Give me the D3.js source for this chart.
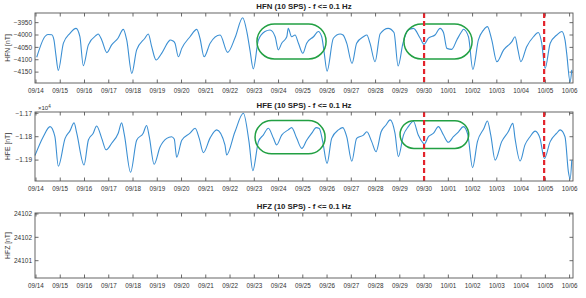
<!DOCTYPE html>
<html><head><meta charset="utf-8">
<script src="https://cdn.jsdelivr.net/npm/d3@7"></script>
<style>body{margin:0;background:#fff}svg{display:block}text{font-family:Arial,"Liberation Sans",sans-serif}</style>
</head><body><svg id="c" width="586" height="298"></svg>
<script>
// ---- data ----
const dayLabels = ["09/14","09/15","09/16","09/17","09/18","09/19","09/20","09/21","09/22","09/23","09/24","09/25","09/26","09/27","09/28","09/29","09/30","10/01","10/02","10/03","10/04","10/05","10/06"];
// time in days since 09/14 00:00
const hfnDays = [0.03,0.37,0.49,0.65,0.74,0.82,0.92,1.13,1.40,1.65,1.81,1.95,2.16,2.50,2.56,2.71,2.92,3.12,3.38,3.60,3.74,3.95,4.15,4.49,4.63,4.77,4.95,5.18,5.46,5.53,5.65,5.73,5.87,6.01,6.35,6.63,6.76,6.93,7.18,7.59,7.90,8.21,8.52,8.70,8.82,8.96,9.17,9.44,9.65,9.86,9.99,10.13,10.34,10.40,10.54,10.68,10.82,11.00,11.16,11.44,11.64,11.78,11.88,12.00,12.26,12.54,12.66,12.81,13.03,13.22,13.50,13.64,13.77,13.98,14.19,14.52,14.76,14.93,15.13,15.34,15.56,15.84,16.00,16.18,16.45,16.66,16.80,16.94,17.14,17.35,17.55,17.62,17.83,18.01,18.24,18.45,18.61,18.79,19.00,19.28,19.62,19.75,19.87,19.99,20.23,20.51,20.71,20.85,20.99,21.20,21.47,21.68,21.81,21.88,22.02,22.09];
const hfnValues = [-4090,-4006,-3998,-3999,-4020,-4080,-4143,-4033,-3993,-3973,-4007,-4124,-4040,-4000,-3996,-4020,-4071,-4040,-4013,-3977,-4020,-4155,-4060,-4013,-3996,-4047,-4101,-4074,-4027,-4020,-4024,-4033,-4088,-4054,-4007,-3977,-4013,-4088,-4033,-4000,-4070,-4010,-3930,-3990,-4060,-4137,-4020,-3986,-3980,-4007,-4060,-4033,-4007,-3973,-4007,-4000,-4033,-4074,-4033,-4007,-3986,-4007,-4070,-4146,-4013,-3996,-4000,-4033,-4115,-4033,-4007,-4000,-4033,-4108,-3995,-3973,-3990,-4125,-4033,-3980,-3973,-4013,-4038,-4013,-4000,-3973,-3990,-4054,-4058,-4020,-3986,-3977,-4007,-4139,-4020,-3980,-3966,-4020,-4108,-4060,-4027,-4007,-4060,-4108,-4047,-4007,-3990,-4033,-4135,-4033,-4000,-3986,-4020,-4074,-4189,-4141];
const hfeDays = [-0.04,0.30,0.58,0.78,0.92,1.20,1.40,1.57,1.68,1.98,2.16,2.36,2.50,2.71,2.89,3.12,3.39,3.53,3.64,3.90,4.15,4.42,4.56,4.67,4.87,5.11,5.39,5.59,5.70,5.80,6.01,6.35,6.56,6.73,6.90,7.18,7.45,7.79,7.86,8.20,8.55,8.78,8.94,9.17,9.37,9.58,9.79,9.92,10.13,10.40,10.54,10.75,10.96,11.16,11.37,11.55,11.68,11.82,12.00,12.19,12.47,12.65,12.81,13.02,13.22,13.50,13.64,13.84,14.02,14.23,14.43,14.60,14.80,14.94,15.15,15.35,15.56,15.76,15.97,16.00,16.18,16.39,16.59,16.80,17.00,17.21,17.42,17.62,17.80,18.00,18.20,18.47,18.61,18.75,18.93,19.20,19.47,19.66,19.75,19.96,20.16,20.37,20.58,20.78,20.96,21.20,21.47,21.61,21.81,21.95,22.02,22.09];
const hfeValues = [-1.1880,-1.1800,-1.1757,-1.1800,-1.1926,-1.1807,-1.1775,-1.1741,-1.1785,-1.1921,-1.1814,-1.1785,-1.1754,-1.1807,-1.1856,-1.1828,-1.1785,-1.1741,-1.1790,-1.1952,-1.1815,-1.1785,-1.1752,-1.1800,-1.1918,-1.1845,-1.1807,-1.1800,-1.1810,-1.1888,-1.1815,-1.1785,-1.1764,-1.1807,-1.1868,-1.1805,-1.1771,-1.1835,-1.1878,-1.1780,-1.1700,-1.1820,-1.1945,-1.1821,-1.1793,-1.1764,-1.1807,-1.1835,-1.1793,-1.1771,-1.1761,-1.1807,-1.1850,-1.1815,-1.1785,-1.1761,-1.1765,-1.1820,-1.1914,-1.1807,-1.1771,-1.1761,-1.1800,-1.1905,-1.1807,-1.1793,-1.1779,-1.1821,-1.1864,-1.1779,-1.1750,-1.1728,-1.1785,-1.1885,-1.1793,-1.1757,-1.1734,-1.1793,-1.1829,-1.1832,-1.1800,-1.1785,-1.1757,-1.1793,-1.1824,-1.1800,-1.1779,-1.1757,-1.1790,-1.1932,-1.1821,-1.1764,-1.1733,-1.1793,-1.1900,-1.1821,-1.1779,-1.1743,-1.1807,-1.1904,-1.1835,-1.1800,-1.1776,-1.1807,-1.1893,-1.1821,-1.1785,-1.1771,-1.1800,-1.1950,-1.1981,-1.1900];
const hfnTicks = [-3950,-4000,-4050,-4100,-4150];
const hfeTicks = [-1.17,-1.18,-1.19];
const hfzTicks = [24102,24101.5,24101];
const eventDays = [16.0, 20.95];
// highlight boxes: [startDay, endDay, topValue, bottomValue]
const hfnBoxes = [[9.11,11.96,-3955,-4097],[15.17,17.98,-3955,-4097]];
const hfeBoxes = [[9.03,11.92,-1.1731,-1.1873],[15.01,17.84,-1.1732,-1.1850]];

// ---- drawing ----
const svg = d3.select("#c");
const L = 35, R = 573;
const x = d3.scaleLinear().domain([-0.041, 22.14]).range([L, R]);

function panel(o){
  const y = d3.scaleLinear().domain(o.domain).range([o.bottom, o.top]);
  const g = svg.append("g");
  // x ticks bottom/top (inward)
  const tickDays = dayLabels.map((d,i)=>i);
  g.selectAll(".xb").data(tickDays).enter().append("line")
    .attr("x1",d=>x(d)).attr("x2",d=>x(d)).attr("y1",o.bottom).attr("y2",o.bottom-3.5)
    .attr("stroke","#444").attr("stroke-width",0.8);
  g.selectAll(".xt").data(tickDays).enter().append("line")
    .attr("x1",d=>x(d)).attr("x2",d=>x(d)).attr("y1",o.top).attr("y2",o.top+3.5)
    .attr("stroke","#444").attr("stroke-width",0.8);
  g.selectAll(".xl").data(dayLabels).enter().append("text")
    .attr("x",(d,i)=>x(i)).attr("y",o.bottom+9.5).attr("text-anchor","middle")
    .attr("font-size","6.3px").attr("fill","#333").text(d=>d);
  // y ticks left/right
  g.selectAll(".yl").data(o.ticks).enter().append("line")
    .attr("x1",L).attr("x2",L+3.5).attr("y1",d=>y(d)).attr("y2",d=>y(d))
    .attr("stroke","#444").attr("stroke-width",0.8);
  g.selectAll(".yr").data(o.ticks).enter().append("line")
    .attr("x1",R).attr("x2",R-3.5).attr("y1",d=>y(d)).attr("y2",d=>y(d))
    .attr("stroke","#444").attr("stroke-width",0.8);
  g.selectAll(".ytl").data(o.ticks).enter().append("text")
    .attr("x",L-3).attr("y",d=>y(d)+2.2).attr("text-anchor","end")
    .attr("font-size","6.5px").attr("fill","#333").text(o.fmt);
  // series
  if(o.days){
    const pts = o.days.map((d,i)=>[d,o.values[i]]);
    g.append("path").datum(pts)
      .attr("d", d3.line().x(d=>x(d[0])).y(d=>y(d[1])).curve(d3.curveMonotoneX))
      .attr("fill","none").attr("stroke","#3b8fd3").attr("stroke-width",1.1);
  }
  // boxes
  (o.boxes||[]).forEach(b=>{
    const h = y(b[3])-y(b[2]);
    g.append("rect").attr("x",x(b[0])).attr("y",y(b[2]))
      .attr("width",x(b[1])-x(b[0])).attr("height",h)
      .attr("rx",h/2).attr("ry",h/2)
      .attr("fill","none").attr("stroke","#22a043").attr("stroke-width",1.5);
  });
  // event lines
  if(o.events){
    g.selectAll(".ev").data(eventDays).enter().append("line")
      .attr("x1",d=>x(d)).attr("x2",d=>x(d)).attr("y1",o.top).attr("y2",o.bottom)
      .attr("stroke","#e3232b").attr("stroke-width",2.2).attr("stroke-dasharray","5,3");
  }
  // frame
  g.append("rect").attr("x",L).attr("y",o.top).attr("width",R-L).attr("height",o.bottom-o.top)
    .attr("fill","none").attr("stroke","#555").attr("stroke-width",0.9);
  // title
  g.append("text").attr("x",304).attr("y",o.top-4).attr("text-anchor","middle")
    .attr("font-size","7.8px").attr("font-weight","bold").attr("fill","#222").text(o.title);
  // y label
  g.append("text").attr("transform",`translate(10,${(o.top+o.bottom)/2}) rotate(-90)`)
    .attr("text-anchor","middle").attr("font-size","6.8px").attr("fill","#333").text(o.ylabel);
  if(o.exp){
    const t = g.append("text").attr("x",L+3).attr("y",o.top-2).attr("font-size","6px").attr("fill","#333");
    t.append("tspan").text("\u00d710");
    t.append("tspan").attr("dy",-2.5).attr("font-size","4.5px").text("4");
  }
}

panel({top:13,bottom:83,domain:[-4194,-3911],ticks:hfnTicks,fmt:d=>d3.format("d")(d),
  days:hfnDays,values:hfnValues,boxes:hfnBoxes,events:true,
  title:"HFN (10 SPS) - f <= 0.1 Hz",ylabel:"HFN [nT]"});
panel({top:112,bottom:181,domain:[-1.19893,-1.16944],ticks:hfeTicks,fmt:d=>d3.format(".2f")(d),
  days:hfeDays,values:hfeValues,boxes:hfeBoxes,events:true,exp:true,
  title:"HFE (10 SPS) - f <= 0.1 Hz",ylabel:"HFE [nT]"});
panel({top:213,bottom:278,domain:[24100.63,24102.02],ticks:hfzTicks,fmt:d=>String(Math.round(d)),
  title:"HFZ (10 SPS) - f <= 0.1 Hz",ylabel:"HFZ [nT]"});
</script></body></html>
